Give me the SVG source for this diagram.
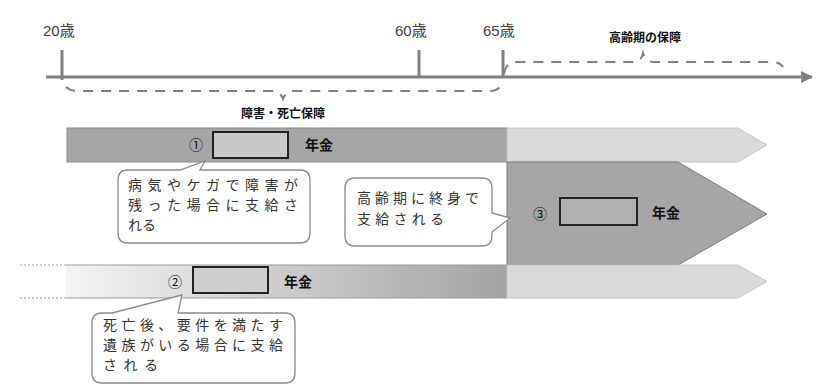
<svg xmlns="http://www.w3.org/2000/svg" width="833" height="390" viewBox="0 0 833 390">
<defs>
<style>
.age{font-family:"Liberation Sans","Noto Sans CJK JP",sans-serif;font-size:15px;fill:#404040}
.hd{font-family:"Noto Sans CJK JP",sans-serif;font-size:12px;font-weight:bold;fill:#111}
.nen{font-family:"Noto Sans CJK JP",sans-serif;font-size:14px;font-weight:bold;fill:#111}
.num{font-family:"Noto Sans CJK JP","DejaVu Sans",sans-serif;font-size:14px;fill:#111}
.ct{font-family:"Noto Sans CJK JP",sans-serif;font-size:14px;fill:#333}
.brace{fill:none;stroke:#808080;stroke-width:2;stroke-dasharray:10 8}
.tick{stroke:#808080;stroke-width:3}
.callout{fill:#fff;stroke:#8a8a8a;stroke-width:1.3}
.dark{fill:#a6a6a6;stroke:#8c8c8c;stroke-width:1}
.light{fill:#d9d9d9;stroke:#c6c6c6;stroke-width:1}
.box{stroke:#222;stroke-width:2}
</style>
<linearGradient id="g2" x1="0" y1="0" x2="1" y2="0">
<stop offset="0" stop-color="#f4f4f4"/>
<stop offset="1" stop-color="#a3a3a3"/>
</linearGradient>
<marker id="ah" viewBox="0 0 10 10" refX="9" refY="5" markerWidth="4" markerHeight="4" orient="auto">
<path d="M0,0 L10,5 L0,10 z" fill="#808080"/>
</marker>
</defs>

<g id="timeline">
<line x1="46" y1="77" x2="812" y2="77" class="tick" marker-end="url(#ah)"/>
<line x1="62" y1="50" x2="62" y2="80" class="tick"/>
<line x1="419" y1="50" x2="419" y2="77" class="tick"/>
<line x1="503" y1="50" x2="503" y2="77" class="tick"/>
<text x="43" y="36" class="age">20歳</text>
<text x="395" y="36" class="age">60歳</text>
<text x="483" y="36" class="age">65歳</text>
</g>

<g id="brace-disability">
<path class="brace" d="M66 87 Q70 91 78 91 L272 91 Q280 91 283 99 Q286 91 294 91 L490 91 Q500 91 502 82"/>
<text x="283" y="118" class="hd" text-anchor="middle">障害・死亡保障</text>
</g>

<g id="brace-elderly">
<path class="brace" d="M504 74 Q506 62 516 62 L634 62 Q641 62 643 53 Q646 62 654 62 L772 62 Q780 62 783 67"/>
<text x="645" y="42" class="hd" text-anchor="middle">高齢期の保障</text>
</g>

<g id="bar1">
<rect x="67" y="128" width="440" height="34" class="dark"/>
<polygon points="507,128 738,128 767,145 738,162 507,162" class="light"/>
<text x="196" y="150" class="num" text-anchor="middle">①</text>
<rect x="213" y="132" width="75" height="26" fill="#c9c9c9" class="box"/>
<text x="305" y="150" class="nen">年金</text>
</g>

<g id="bar3">
<polygon points="507,162 678,162 767,214 678,265 507,265" fill="#a6a6a6" stroke="#7a7a7a" stroke-width="1"/>
<text x="540" y="219" class="num" text-anchor="middle">③</text>
<rect x="560" y="198" width="77" height="27" fill="#b0b0b0" class="box"/>
<text x="652" y="218" class="nen">年金</text>
</g>

<g id="bar2">
<line x1="20" y1="265" x2="66" y2="265" stroke="#9a9a9a" stroke-width="1" stroke-dasharray="2 2"/>
<line x1="20" y1="298" x2="66" y2="298" stroke="#9a9a9a" stroke-width="1" stroke-dasharray="2 2"/>
<rect x="66" y="265" width="441" height="33" fill="url(#g2)"/>
<line x1="66" y1="265" x2="507" y2="265" stroke="#999" stroke-width="1"/>
<line x1="66" y1="298" x2="507" y2="298" stroke="#999" stroke-width="1"/>
<polygon points="507,265 738,265 767,281.5 738,298 507,298" class="light"/>
<text x="175" y="287" class="num" text-anchor="middle">②</text>
<rect x="193" y="267" width="75" height="26" fill="#cfcfcf" class="box"/>
<text x="284" y="287" class="nen">年金</text>
</g>

<g id="callout1">
<path class="callout" d="M128 170 L180 170 L205 161 L200 170 L300 170 Q310 170 310 180 L310 233 Q310 243 300 243 L128 243 Q118 243 118 233 L118 180 Q118 170 128 170 Z"/>
<text class="ct" x="128" y="190" textLength="170" lengthAdjust="spacing">病気やケガで障害が</text>
<text class="ct" x="128" y="210" textLength="170" lengthAdjust="spacing">残った場合に支給さ</text>
<text class="ct" x="128" y="230">れる</text>
</g>

<g id="callout3">
<path class="callout" d="M355 178 L482 178 Q492 178 492 188 L492 213 L510 218 L492 232 L492 236 Q492 246 482 246 L355 246 Q345 246 345 236 L345 188 Q345 178 355 178 Z"/>
<text class="ct" x="357" y="203" textLength="122" lengthAdjust="spacing">高齢期に終身で</text>
<text class="ct" x="357" y="224" textLength="87" lengthAdjust="spacing">支給される</text>
</g>

<g id="callout2">
<path class="callout" d="M102 313 L112 313 L182 295 L178 313 L285 313 Q295 313 295 323 L295 373 Q295 383 285 383 L102 383 Q92 383 92 373 L92 323 Q92 313 102 313 Z"/>
<text class="ct" x="103" y="330" textLength="180" lengthAdjust="spacing">死亡後、要件を満たす</text>
<text class="ct" x="103" y="350" textLength="180" lengthAdjust="spacing">遺族がいる場合に支給</text>
<text class="ct" x="103" y="370" textLength="55" lengthAdjust="spacing">される</text>
</g>
</svg>
